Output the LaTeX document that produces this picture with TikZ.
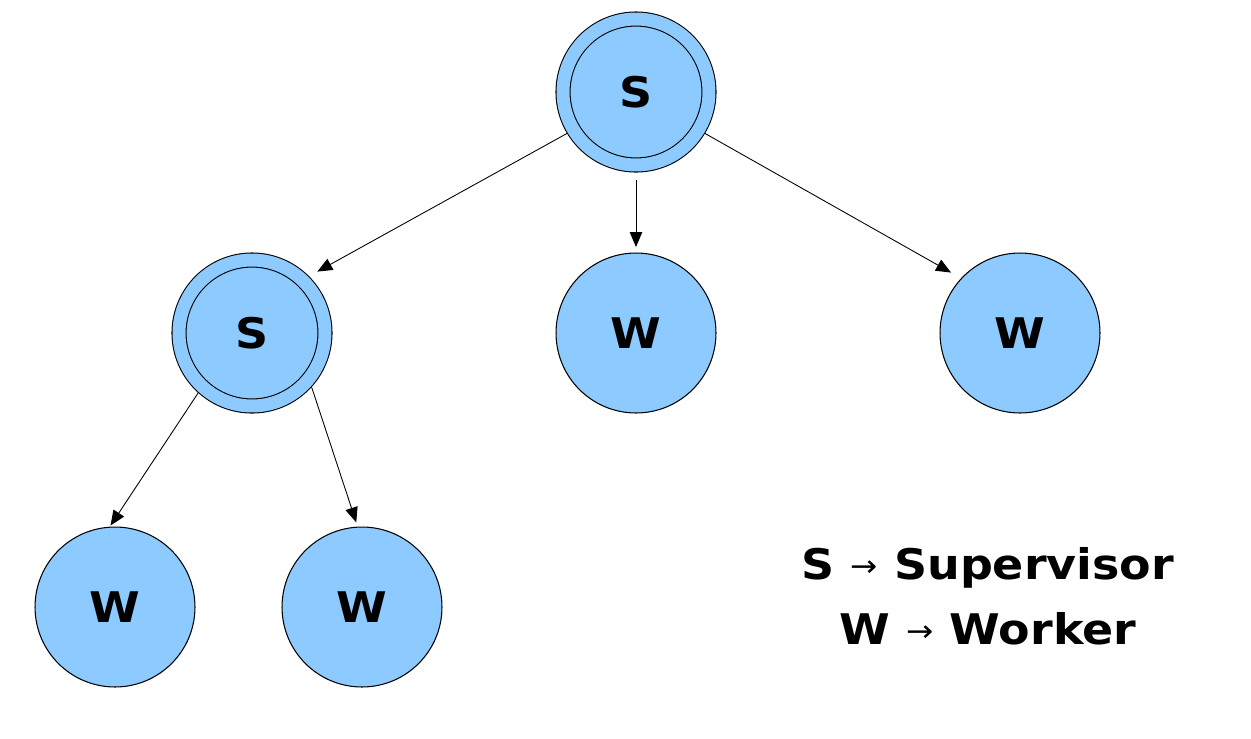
\documentclass[tikz,border=0pt]{standalone}
\usepackage{fontspec}
\setmainfont[FakeStretch=1.09]{DejaVu Sans}
\usetikzlibrary{arrows.meta}
\definecolor{nodeblue}{RGB}{140,202,255}
\newcommand{\legarrow}{\raisebox{0.06cm}{\mdseries\fontsize{17}{17}\selectfont →}}

\begin{document}
\begin{tikzpicture}[x=0.02cm, y=-0.02cm,
    worker/.style={circle, draw, line width=0.6pt, fill=nodeblue, inner sep=0pt,
      minimum size=3.2cm, outer sep=0pt, font=\fontsize{24}{24}\selectfont\bfseries},
    super/.style={worker, minimum size=2.92cm, double=nodeblue, double distance=0.26cm,
      outer sep=0.14cm},
    link/.style={-{Triangle[length=0.3cm, width=0.25cm]}, line width=0.5pt}]
  \useasboundingbox (0,0) rectangle (1251,738);
  \node[super] (sup) at (636,92) {S};
  \node[super] (supl) at (252,333) {S};
  \node[worker] (wmid) at (636,333) {W};
  \node[worker] (wright) at (1020,333) {W};
  \node[worker] (wl1) at (115,607) {W};
  \node[worker] (wl2) at (362,607) {W};
  \draw[link, shorten >=0.2cm] (sup.211) -- (supl.45);
  \draw[link, shorten <=0.16cm, shorten >=0.12cm] (sup.270) -- (wmid.90);
  \draw[link, shorten >=0.24cm] (sup.329) -- (wright.137);
  \draw[link, shorten >=0.04cm] (supl.228) -- (wl1.94);
  \draw[link, shorten >=0.1cm] (supl.318) -- (wl2.93);
  \node[align=center, font=\fontsize{24}{37}\selectfont\bfseries] (legend) at (988,596)
    {S \legarrow{} Supervisor\\
     W \legarrow{} Worker};
\end{tikzpicture}
\end{document}
